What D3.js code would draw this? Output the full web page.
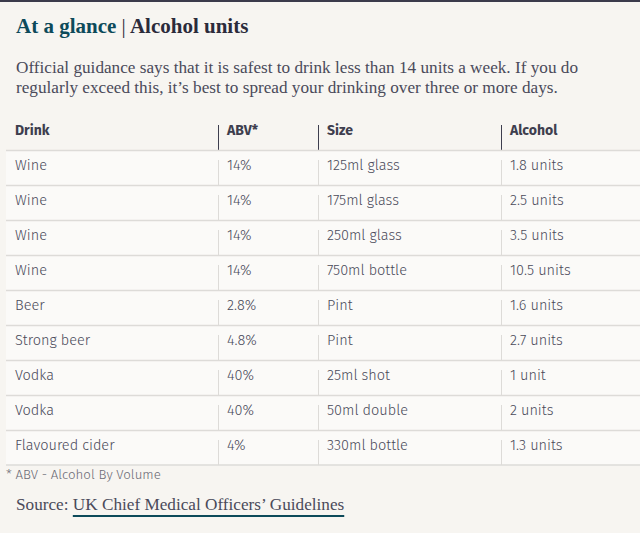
<!DOCTYPE html>
<html>
<head>
<meta charset="utf-8">
<script src="https://cdn.jsdelivr.net/npm/d3@7"></script>
<style>
  html, body { margin: 0; padding: 0; background: #f7f5f1; }
  svg { display: block; }
</style>
</head>
<body>
<div id="chart"></div>
<script>
// table contents, one array per column
var headers = ["Drink", "ABV*", "Size", "Alcohol"];
var drinks = ["Wine", "Wine", "Wine", "Wine", "Beer", "Strong beer", "Vodka", "Vodka", "Flavoured cider"];
var abv = ["14%", "14%", "14%", "14%", "2.8%", "4.8%", "40%", "40%", "4%"];
var sizes = ["125ml glass", "175ml glass", "250ml glass", "750ml bottle", "Pint", "Pint", "25ml shot", "50ml double", "330ml bottle"];
var units = ["1.8 units", "2.5 units", "3.5 units", "10.5 units", "1.6 units", "2.7 units", "1 unit", "2 units", "1.3 units"];

var width = 640, height = 533;
var serif = "'Liberation Serif', 'Times New Roman', serif";
var sans = "'Fira Sans', 'Noto Sans', sans-serif";

var svg = d3.select("#chart").append("svg")
  .attr("width", width)
  .attr("height", height);

svg.append("rect").attr("width", width).attr("height", height).attr("fill", "#f7f5f1");
// dark rule across the top
svg.append("rect").attr("width", width).attr("height", 2).attr("fill", "#3b3b4b");

// title
var title = svg.append("text")
  .attr("x", 16).attr("y", 33)
  .attr("font-family", serif).attr("font-size", 21).attr("font-weight", "bold");
title.append("tspan").attr("fill", "#0d4a5a").text("At a glance ");
title.append("tspan").attr("fill", "#2b2b3b").attr("font-weight", "normal").text("|");
title.append("tspan").attr("fill", "#2b2b3b").text(" Alcohol units");

var subLines = [
  "Official guidance says that it is safest to drink less than 14 units a week. If you do",
  "regularly exceed this, it\u2019s best to spread your drinking over three or more days."
];
svg.selectAll("text.sub").data(subLines).enter().append("text")
  .attr("class", "sub")
  .attr("x", 16).attr("y", function(d, i) { return 73 + i * 20; })
  .attr("font-family", serif).attr("font-size", 17.2).attr("fill", "#4a4a5a")
  .text(function(d) { return d; });

// table
var colStart = [6, 218, 318, 501];
var x = d3.scaleOrdinal().domain(headers).range(colStart);
var rows = d3.range(drinks.length);
var y = d3.scaleBand().domain(rows).range([150, 465]);
var cols = [drinks, abv, sizes, units];

var table = svg.append("g");

// header
table.selectAll("text.head").data(headers).enter().append("text")
  .attr("class", "head")
  .attr("x", function(d) { return x(d) + 9; })
  .attr("y", 135)
  .attr("font-family", sans).attr("font-size", 14).attr("font-weight", "bold")
  .attr("fill", "#3e3e4e")
  .text(function(d) { return d; });

table.selectAll("line.headsep").data(headers.slice(1)).enter().append("line")
  .attr("x1", function(d) { return x(d) + 0.5; }).attr("x2", function(d) { return x(d) + 0.5; })
  .attr("y1", 125).attr("y2", 150)
  .attr("stroke", "#3e3e4e").attr("stroke-width", 1);

// body rows
var rowG = table.selectAll("g.row").data(rows).enter().append("g")
  .attr("class", "row")
  .attr("transform", function(d) { return "translate(0," + y(d) + ")"; });

rowG.append("rect")
  .attr("x", 6).attr("width", width - 6).attr("height", y.bandwidth())
  .attr("fill", "#fbfaf8");

rowG.append("line")
  .attr("x1", 6).attr("x2", width).attr("y1", 0.5).attr("y2", 0.5)
  .attr("stroke", "#dddbd8").attr("stroke-width", 1.5);

rowG.selectAll("line.sep").data(headers.slice(1)).enter().append("line")
  .attr("class", "sep")
  .attr("x1", function(d) { return x(d) + 0.5; }).attr("x2", function(d) { return x(d) + 0.5; })
  .attr("y1", 10).attr("y2", y.bandwidth())
  .attr("stroke", "#dddbd8").attr("stroke-width", 1);

rowG.selectAll("text").data(function(r) {
    return cols.map(function(c, i) { return { col: headers[i], v: c[r] }; });
  }).enter().append("text")
  .attr("x", function(d) { return x(d.col) + 9; })
  .attr("y", 20)
  .attr("font-family", sans).attr("font-size", 14.5).attr("font-weight", 300)
  .attr("fill", "#4a4a5a")
  .text(function(d) { return d.v; });

table.append("line")
  .attr("x1", 6).attr("x2", width).attr("y1", 465).attr("y2", 465)
  .attr("stroke", "#dddbd8").attr("stroke-width", 1.5);

// footnote
svg.append("text")
  .attr("x", 6).attr("y", 479)
  .attr("font-family", sans).attr("font-size", 13.3).attr("font-weight", 300)
  .attr("fill", "#6a6a74")
  .text("* ABV - Alcohol By Volume");

// source
var src = svg.append("text")
  .attr("x", 16).attr("y", 510)
  .attr("font-family", serif).attr("font-size", 17.2).attr("fill", "#4a4a5a");
src.append("tspan").text("Source: ");
src.append("tspan").text("UK Chief Medical Officers\u2019 Guidelines");

var full = src.node().getComputedTextLength();
var linkStart = 16 + src.node().getSubStringLength(0, 8);
svg.append("line")
  .attr("x1", linkStart).attr("x2", 16 + full)
  .attr("y1", 516).attr("y2", 516)
  .attr("stroke", "#0d4a5a").attr("stroke-width", 2);
</script>
</body>
</html>
